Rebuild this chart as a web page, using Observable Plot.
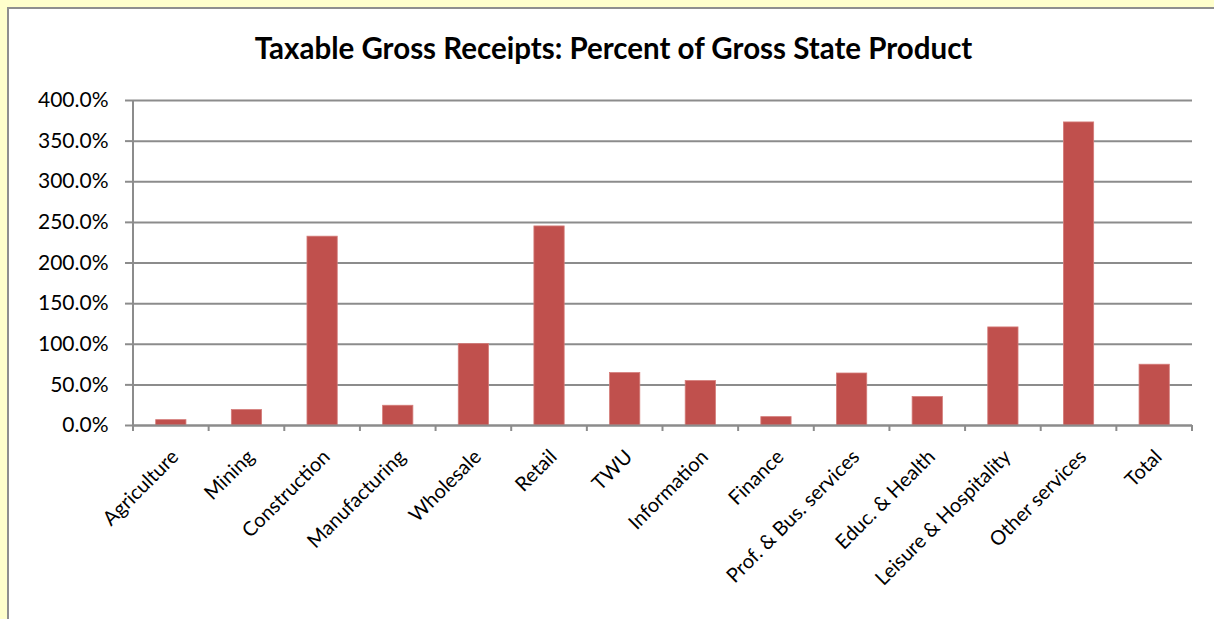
<!DOCTYPE html>
<html><head><meta charset="utf-8">
<script src="https://cdn.jsdelivr.net/npm/d3@7"></script>
<script src="https://cdn.jsdelivr.net/npm/@observablehq/plot@0.6"></script>
<style>
html,body{margin:0;padding:0;background:#FFFFCC;width:1214px;height:619px;overflow:hidden}
#box{position:absolute;left:7px;top:7px;width:1230px;height:640px;background:#fff;border:2px solid #8f8f8f;box-sizing:border-box}
#title{position:absolute;left:8px;top:31px;width:1211px;text-align:center;font:bold 29.5px Lato, sans-serif;color:#000;white-space:nowrap;line-height:34px}
#chart{position:absolute;left:0;top:0}
</style></head>
<body>
<div id="box"></div>
<div id="title">Taxable Gross Receipts: Percent of Gross State Product</div>
<div id="chart"></div>
<script>
const categories = ["Agriculture","Mining","Construction","Manufacturing","Wholesale","Retail","TWU","Information","Finance","Prof. & Bus. services","Educ. & Health","Leisure & Hospitality","Other services","Total"];
const values = [6.6, 19.0, 232.4, 24.3, 100.3, 245.0, 64.5, 54.7, 10.3, 64.0, 35.0, 120.7, 373.0, 74.8];
const yTicks = [0, 50, 100, 150, 200, 250, 300, 350, 400];

const data = categories.map((c, i) => ({category: c, value: values[i]}));
const gray = "#8c8c8c";

function boundaryTicks(index, scales, vals, dims) {
  const g = d3.create("svg:g");
  const left = dims.marginLeft, right = dims.width - dims.marginRight;
  const n = categories.length, step = (right - left) / n;
  const y0 = scales.y(0), yTop = scales.y(d3.max(yTicks));
  g.append("line").attr("x1", left).attr("x2", left).attr("y1", yTop).attr("y2", y0 + 6)
    .attr("stroke", gray).attr("stroke-width", 2);
  for (let i = 1; i <= n; i++) {
    const bx = left + i * step;
    g.append("line").attr("x1", bx).attr("x2", bx).attr("y1", y0).attr("y2", y0 + 6)
      .attr("stroke", gray).attr("stroke-width", 2);
  }
  return g.node();
}

const chart = Plot.plot({
  width: 1214,
  height: 619,
  marginLeft: 133,
  marginRight: 22,
  marginTop: 100,
  marginBottom: 194,
  style: {fontFamily: "Lato, sans-serif", background: "transparent", color: "#000"},
  x: {type: "band", domain: categories, paddingInner: 0.6, paddingOuter: 0.3, align: 0.5, round: false, label: null},
  y: {domain: [0, 400], label: null},
  marks: [
    Plot.gridY(yTicks, {stroke: gray, strokeOpacity: 1, strokeWidth: 2}),
    Plot.barY(data, {x: "category", y: "value", fill: "#C0504D", stroke: "#d47c79", strokeWidth: 0.8}),
    Plot.ruleY([0], {stroke: gray, strokeWidth: 2}),
    Plot.axisY(yTicks, {tickFormat: d => d.toFixed(1) + "%", tickSize: 8, tickPadding: 17, stroke: gray, strokeWidth: 2, fill: "#000", fontSize: 21, label: null}),
    Plot.axisX({tickRotate: -45, tickSize: 0, tickPadding: 30, dx: 4, dy: -2, fontSize: 20, fill: "#000", label: null}),
    boundaryTicks
  ]
});
document.getElementById("chart").appendChild(chart);
</script>
</body></html>
